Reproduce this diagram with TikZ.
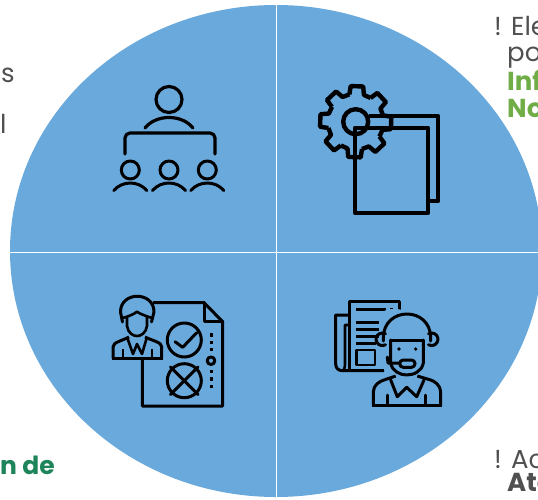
\documentclass[tikz,border=0pt]{standalone}
\usepackage{fontspec}
\setmainfont{Poppins}
\definecolor{discblue}{HTML}{6AA9DC}
\definecolor{textgrey}{HTML}{505050}
\definecolor{titlegreen}{HTML}{70AD47}
\definecolor{deepgreen}{HTML}{1E8459}
\tikzset{
  every node/.style={inner sep=0pt, anchor=base west},
  greytext/.style={text=textgrey, font=\fontsize{26}{26}\selectfont},
  greenbold/.style={text=titlegreen, font=\fontsize{26}{26}\selectfont\bfseries},
  icon/.style={line width=3pt, draw=black, line cap=round, line join=round},
  iconheavy/.style={line width=4.4pt, draw=black, line join=round},
  iconthin/.style={line width=2.6pt, draw=black, line join=round},
}
\begin{document}
\begin{tikzpicture}[x=1pt, y=-1pt]
\useasboundingbox (0,0) rectangle (538,499);
\fill [discblue] (276,251) ellipse [x radius=266, y radius=246];
\draw [line width=1.3pt, white] (276.3,0) -- (276.3,499);
\draw [line width=1.3pt, white] (10,252.3) -- (542,252.3);
% texts
\node (s) [greytext] at (1,82) {s};
\node (l) [greytext] at (0,133) {l};
\node (mark1) [greytext] at (494,35.5) {! Ele};
\node (line2) [greytext] at (507,61.5) {po};
\node (line3) [greenbold] at (507,90.5) {Inf};
\node (line4) [greenbold] at (507,117) {No};
\node (dark) [text=deepgreen, font=\fontsize{25}{25}\selectfont\bfseries] at (0,474) {n de};
\node (mark2) [greytext] at (494,468) {! Ac};
\node (line5) [greytext, font=\fontsize{26}{26}\selectfont\bfseries] at (507,491.5) {Ate};
% meeting
\draw [icon, line width=3.2pt] (169,99.5) circle [radius=13];
\draw [icon, line width=3.2pt] (145,128) .. controls (156,114) and (182,114) .. (193,128);
\draw [icon, line width=3.2pt, rounded corners=5pt] (125,154) -- (125,133) -- (215,133) -- (215,154);
\foreach \cx in {130.3,169,207.3} {
  \draw [icon] (\cx,170) circle [radius=9];
  \draw [icon] (\cx-16.5,190.5) .. controls (\cx-8,180.5) and (\cx+8,180.5) .. (\cx+16.5,190.5);
}
% gear and sheets
\draw [iconheavy] (369,116) -- (438,116) -- (438,201) -- (428,201);
\draw [iconheavy] (355,127.7) -- (428,127.7) -- (428,212.7) -- (355,212.7) -- cycle;
\draw [iconheavy] \foreach \a in {0,45,...,315} {
  ([shift={(355.7,121.7)}]\a+2-15:28) -- ([shift={(355.7,121.7)}]\a+2-10:36) -- ([shift={(355.7,121.7)}]\a+2+10:36) -- ([shift={(355.7,121.7)}]\a+2+15:28) -- ([shift={(355.7,121.7)}]\a+2+30:28)
};
\draw [iconheavy] (355.7,121.7) circle [radius=12.5];
% person with checklist
\draw [icon, line cap=butt, line width=3pt] (153,302.7) -- (204,302.7) -- (222.7,321.7) -- (222.7,406) -- (142.3,406) -- (142.3,358);
\draw [icon] (204,302.7) -- (204,321.7) -- (222.7,321.7);
\draw [icon] (184.3,340) circle [radius=17];
\draw [icon] (175,341.7) -- (182.7,347.3) -- (196.7,332.7);
\draw [icon] (184.3,380.7) circle [radius=17];
\draw [icon] (170.5,366.9) -- (198.1,394.5);
\draw [icon] (198.1,366.9) -- (170.5,394.5);
\foreach \dy in {335,342.7,349.3,371.7,379,386.5} {
  \fill (209.5,\dy-1.7) rectangle (212.8,\dy+1.7);
}
\draw [icon] (211,360.7) circle [radius=3.8];
\draw [icon] (122.5,322) -- (120.5,312) .. controls (120.5,291) and (154,291) .. (154,312) -- (151.5,322);
\draw [iconthin] (122.5,318) .. controls (130,316) and (134,314) .. (137,311.7) .. controls (140,314) and (146,316) .. (152,318);
\draw [iconthin] (127,316) -- (127,326) .. controls (128,333) and (133,336) .. (137,336) .. controls (141,336) and (146,333) .. (147,326) -- (147,316);
\draw [icon, line cap=butt] (113,358.3) -- (113,347) .. controls (113,342) and (122,341) .. (129,337);
\draw [icon, line cap=butt] (161.7,358.3) -- (161.7,347) .. controls (161.7,342) and (153,341) .. (145,337);
\draw [icon, line cap=butt] (112,358.3) -- (163,358.3);
\draw [iconthin] (127,337) -- (133,354) -- (137,344) -- (142,354) -- (147,337);
\draw [iconthin] (123,358) -- (123,349);
\draw [iconthin] (152,358) -- (152,349);
% newspaper and operator
\draw [iconthin, line width=3pt] (349,370.7) -- (349,301.7) -- (399,301.7) -- (399,317);
\draw [iconthin, line width=3pt] (384,370.7) -- (343,370.7) .. controls (338,370.7) and (335.7,368) .. (335.7,364) -- (335.7,315) -- (349,315);
\draw [iconthin] (349,325) -- (345,325) -- (345,365) .. controls (345,368) and (344,370) .. (343,370.7);
\foreach \ly/\lx in {309.3/386.3,322.7/379,329.3/379,336.7/379,343/375.7} {
  \draw [line width=3pt] (356.3,\ly) -- (\lx,\ly);
}
\fill (390,307.8) rectangle (393.2,311);
\draw [iconthin] (356.3,350) rectangle (375,365);
\fill [discblue] (384,312) .. controls (384,306) and (430,306) .. (430,340) -- (430,370) -- (384,370) -- cycle;
\draw [icon] (383.3,341) -- (383.3,338) .. controls (383.3,306) and (430.7,306) .. (430.7,338) -- (430.7,341);
\draw [icon] (391,340) -- (422.5,340);
\draw [icon] (390.7,340) -- (390.7,363) .. controls (392,371) and (400,375) .. (406.7,375) .. controls (414,375) and (422,371) .. (423.3,363) -- (423.3,340);
\draw [icon] (385.5,344.7) arc [start angle=60, end angle=300, radius=6.3];
\draw [icon] (428.5,344.7) arc [start angle=120, end angle=-120, radius=6.3];
\fill (399,349) circle [radius=1.8];
\fill (415.7,349) circle [radius=1.8];
\draw [icon, rounded corners=3.5pt] (399.7,360) rectangle (415,367.3);
\draw [icon] (387.3,357) -- (388,363) -- (399.7,363);
\draw [icon, line cap=butt] (373.3,405.3) -- (373.3,392) .. controls (373.3,385) and (380,381) .. (384,380) -- (395.7,376);
\draw [icon, line cap=butt] (440.7,405.3) -- (440.7,392) .. controls (440.7,385) and (434,381) .. (430.7,380) -- (417.3,376);
\draw [icon, line cap=butt] (372.3,405.3) -- (441.7,405.3);
\draw [icon] (390.7,380) -- (397.3,396.7) -- (406.7,387.3) -- (416.7,396.7) -- (424,380);
\draw [icon] (387.3,405) -- (387.3,395);
\draw [icon] (425.7,405) -- (425.7,395);
\end{tikzpicture}
\end{document}
